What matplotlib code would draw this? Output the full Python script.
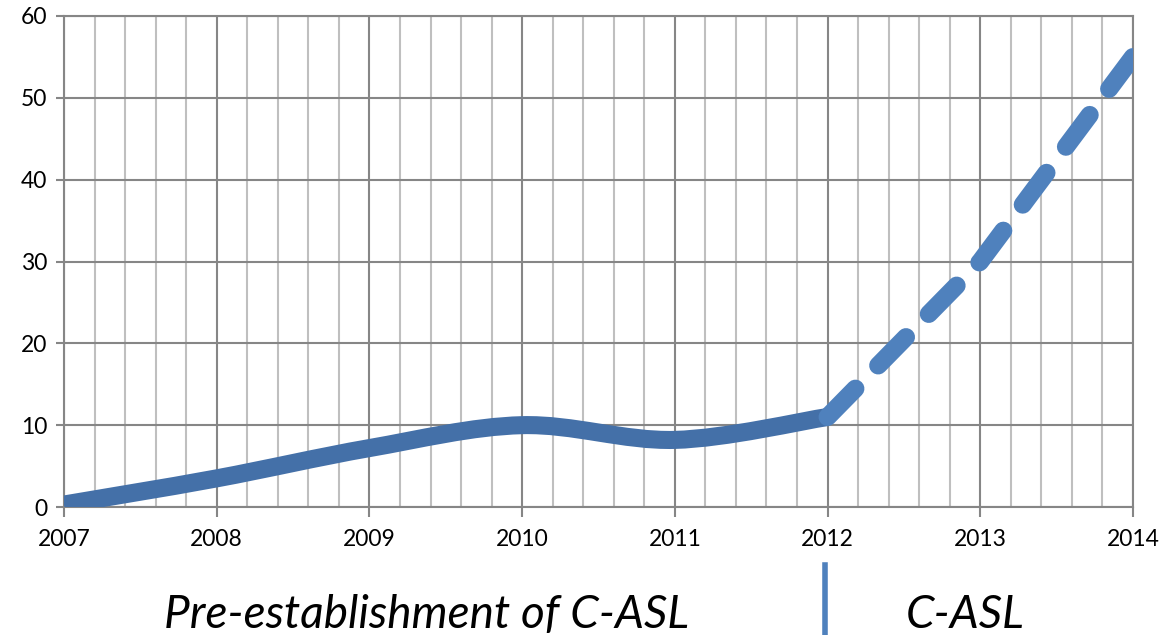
import matplotlib
matplotlib.use("Agg")
import matplotlib.pyplot as plt
from matplotlib.path import Path
from matplotlib.patches import PathPatch
from matplotlib.ticker import MultipleLocator

# data
years_pre = [2007, 2008, 2009, 2010, 2011, 2012]
values_pre = [0.3, 3.5, 7.2, 10.0, 8.2, 11.0]
years_casl = [2012, 2013, 2014]
values_casl = [11.0, 30.0, 55.0]
label_pre = "Pre-establishment of C-ASL"
label_casl = "C-ASL"

SOLID = "#4470a8"
DASHED = "#4f81bd"

plt.rcParams['font.family'] = ['Lato', 'DejaVu Sans']


def smooth_path(xs, ys):
    # Excel style smoothed line: cubic bezier through every point
    pts = list(zip(xs, ys))
    verts = [pts[0]]
    codes = [Path.MOVETO]
    n = len(pts)
    for i in range(n - 1):
        p0 = pts[i - 1] if i > 0 else pts[i]
        p1 = pts[i]
        p2 = pts[i + 1]
        p3 = pts[i + 2] if i + 2 < n else pts[i + 1]
        c1 = (p1[0] + (p2[0] - p0[0]) / 6, p1[1] + (p2[1] - p0[1]) / 6)
        c2 = (p2[0] - (p3[0] - p1[0]) / 6, p2[1] - (p3[1] - p1[1]) / 6)
        verts += [c1, c2, p2]
        codes += [Path.CURVE4] * 3
    return Path(verts, codes)


fig = plt.figure(figsize=(11.63, 6.35), dpi=100)
ax = fig.add_axes([64 / 1163, 1 - 507 / 635, (1133 - 64) / 1163, (507 - 16) / 635])

ax.set_xlim(2007, 2014)
ax.set_ylim(0, 60)
ax.xaxis.set_major_locator(MultipleLocator(1))
ax.xaxis.set_minor_locator(MultipleLocator(0.2))
ax.yaxis.set_major_locator(MultipleLocator(10))

ax.grid(which="major", color="#868686", linewidth=1.5)
ax.grid(which="minor", axis="x", color="#bfbfbf", linewidth=1.5)
ax.set_axisbelow(True)
for s in ax.spines.values():
    s.set_color("#868686")
    s.set_linewidth(1.5)

ax.tick_params(axis="x", which="major", length=7, width=1.5, color="#868686",
               labelsize=16.5, pad=9, direction="out")
ax.tick_params(axis="x", which="minor", length=0)
ax.tick_params(axis="y", which="major", length=6, width=1.5, color="#868686",
               labelsize=16.5, pad=6)
ax.set_xticklabels([str(int(t)) for t in ax.get_xticks()])

patch = PathPatch(smooth_path(years_pre, values_pre), facecolor="none",
                  edgecolor=SOLID, linewidth=13, capstyle="butt", zorder=3)
ax.add_patch(patch)

ax.plot(years_casl, values_casl, color=DASHED, linewidth=13,
        linestyle=(0, (2.2, 1.8)), dash_capstyle="round", zorder=4)

# period labels under the axis
fig.text(427 / 1163, 1 - 628 / 635, label_pre, fontsize=33, style="italic",
         ha="center", va="baseline")
fig.text(965 / 1163, 1 - 628 / 635, label_casl, fontsize=33, style="italic",
         ha="center", va="baseline")
fig.add_artist(plt.Line2D([825 / 1163, 825 / 1163], [0, 1 - 565 / 635],
                          color=DASHED, linewidth=4))

fig.savefig("out.png", dpi=100)
